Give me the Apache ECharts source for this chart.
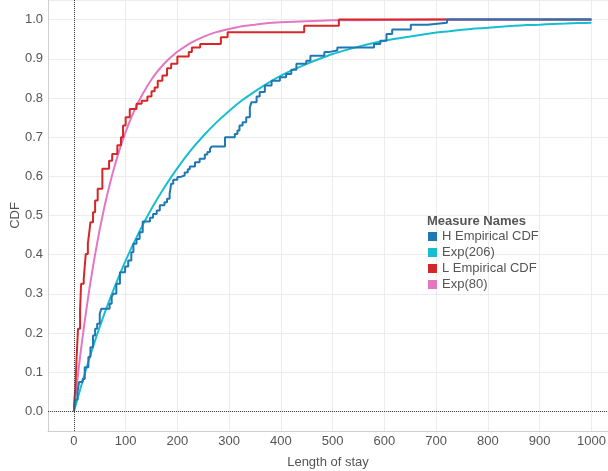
<!DOCTYPE html>
<html>
<head>
<meta charset="utf-8">
<script src="https://cdn.jsdelivr.net/npm/echarts@6/dist/echarts.min.js"></script>
<style>
  html, body { margin: 0; padding: 0; background: #ffffff; }
  #chart { width: 608px; height: 471px; }
</style>
</head>
<body>
<div id="chart"></div>
<script>
// Empirical CDF of length of stay, group H: [jump position, cumulative share]
const hEmpirical = [
  [0, 0], [3, 0.03], [7, 0.05], [10, 0.075], [17, 0.083], [21, 0.113], [28, 0.139],
  [32, 0.164], [37, 0.194], [41, 0.211], [45, 0.224], [50, 0.249], [53, 0.262],
  [69, 0.275], [73, 0.292], [76, 0.30], [82, 0.326], [89, 0.355], [99, 0.37],
  [105, 0.385], [111, 0.406], [115, 0.428], [121, 0.44], [127, 0.457], [133, 0.485],
  [147, 0.494], [153, 0.504], [160, 0.513], [166, 0.526], [175, 0.534], [180, 0.543],
  [185, 0.555], [188, 0.581], [192, 0.591], [200, 0.598], [205, 0.602], [214, 0.61],
  [220, 0.618], [224, 0.625], [234, 0.636], [243, 0.645], [253, 0.656], [258, 0.662],
  [263, 0.670], [266, 0.676], [292, 0.70], [311, 0.708], [316, 0.717], [320, 0.730],
  [326, 0.738], [333, 0.751], [340, 0.776], [343, 0.789], [353, 0.804], [359, 0.815],
  [369, 0.832], [382, 0.844], [398, 0.853], [410, 0.861], [420, 0.872], [430, 0.887],
  [449, 0.895], [457, 0.908], [484, 0.917], [492, 0.921], [509, 0.929], [580, 0.938],
  [592, 0.946], [604, 0.963], [615, 0.975], [651, 0.987], [683, 0.992], [721, 1.0],
  [1000, 1.0]
];

// Empirical CDF of length of stay, group L
const lEmpirical = [
  [0, 0], [1, 0.03], [3, 0.062], [5, 0.13], [8, 0.211], [12, 0.26], [14, 0.326],
  [19, 0.338], [21, 0.37], [23, 0.402], [27, 0.428], [30, 0.46], [32, 0.483],
  [37, 0.508], [41, 0.538], [46, 0.568], [55, 0.619], [68, 0.640], [74, 0.657],
  [84, 0.679], [91, 0.70], [95, 0.73], [100, 0.751], [108, 0.772], [121, 0.785],
  [131, 0.793], [142, 0.804], [150, 0.817], [156, 0.827], [162, 0.844], [171, 0.857],
  [180, 0.876], [188, 0.887], [200, 0.906], [222, 0.917], [228, 0.929], [244, 0.938],
  [284, 0.955], [297, 0.968], [445, 0.984], [512, 1.0], [1000, 1.0]
];

// Fitted exponential CDF, mean 206
const exp206 = [
  [0, 0], [25, 0.114], [50, 0.216], [75, 0.305], [100, 0.385], [125, 0.455],
  [150, 0.517], [175, 0.572], [200, 0.621], [225, 0.665], [250, 0.703], [275, 0.737],
  [300, 0.767], [325, 0.794], [350, 0.817], [375, 0.838], [400, 0.857], [425, 0.873],
  [450, 0.887], [475, 0.900], [500, 0.912], [525, 0.922], [550, 0.931], [575, 0.939],
  [600, 0.946], [625, 0.952], [650, 0.957], [675, 0.962], [700, 0.967], [725, 0.970],
  [750, 0.974], [775, 0.977], [800, 0.979], [825, 0.982], [850, 0.984], [875, 0.986],
  [900, 0.987], [925, 0.989], [950, 0.990], [975, 0.991], [1000, 0.992]
];

// Fitted exponential CDF, mean 80
const exp80 = [
  [0, 0], [10, 0.118], [20, 0.221], [30, 0.313], [40, 0.393], [50, 0.465], [60, 0.528],
  [70, 0.583], [80, 0.632], [90, 0.675], [100, 0.713], [110, 0.747], [120, 0.777],
  [130, 0.803], [140, 0.826], [150, 0.847], [160, 0.865], [170, 0.881], [180, 0.895],
  [190, 0.907], [200, 0.918], [225, 0.940], [250, 0.956], [275, 0.968], [300, 0.976],
  [325, 0.983], [350, 0.987], [375, 0.991], [400, 0.993], [450, 0.996], [500, 0.998],
  [600, 0.999], [700, 1.0], [800, 1.0], [900, 1.0], [1000, 1.0]
];

const legendNames = ['H Empirical CDF', 'Exp(206)', 'L Empirical CDF', 'Exp(80)'];
const seriesColors = {
  'H Empirical CDF': '#1f77b4',
  'Exp(206)': '#17becf',
  'L Empirical CDF': '#d62728',
  'Exp(80)': '#e377c2'
};

const FONT = 'Liberation Sans, Arial, sans-serif';
const TEXT = '#555555';
const SIZE = 13;

const chart = echarts.init(document.getElementById('chart'), null, { renderer: 'canvas' });

function curve(name, data) {
  return {
    name, type: 'line', data, symbol: 'none', smooth: 0.2,
    lineStyle: { width: 2, color: seriesColors[name] },
    itemStyle: { color: seriesColors[name] }
  };
}
function stepLine(name, data) {
  return {
    name, type: 'line', data, symbol: 'none', step: 'end',
    lineStyle: { width: 2, color: seriesColors[name] },
    itemStyle: { color: seriesColors[name] }
  };
}

// dotted reference lines through x = 0 and y = 0
const zeroLines = {
  silent: true, symbol: 'none', animation: false,
  label: { show: false },
  lineStyle: { type: 'dotted', color: '#444', width: 1 },
  data: [{ xAxis: 0 }, { yAxis: 0 }]
};

chart.setOption({
  animation: false,
  backgroundColor: '#ffffff',
  textStyle: { fontFamily: FONT },
  grid: { left: 48, right: 0, top: 0, bottom: 40, containLabel: false, outerBoundsMode: 'none' },
  title: {
    text: 'Measure Names', left: 422, top: 210,
    textStyle: { fontFamily: FONT, fontSize: SIZE, fontWeight: 'bold', color: TEXT }
  },
  legend: {
    data: legendNames, orient: 'vertical', left: 423, top: 224,
    itemWidth: 9, itemHeight: 9, itemGap: 1, icon: 'rect',
    textStyle: { fontFamily: FONT, fontSize: SIZE, color: TEXT, lineHeight: 15 },
    selectedMode: false
  },
  xAxis: {
    type: 'value', min: -50, max: 1032, splitNumber: 10,
    name: 'Length of stay', nameLocation: 'middle', nameGap: 25, nameMoveOverlap: false,
    nameTextStyle: { fontFamily: FONT, fontSize: SIZE, color: TEXT },
    axisLine: { show: true, onZero: false, lineStyle: { color: '#cfcfcf', width: 1 } },
    axisTick: { show: false },
    axisLabel: {
      showMinLabel: false, showMaxLabel: false, margin: 4, fontSize: SIZE, color: TEXT, fontFamily: FONT,
      formatter: v => String(v)
    },
    splitLine: { show: true, lineStyle: { color: '#ececec', width: 1 } }
  },
  yAxis: {
    type: 'value', min: -0.05, max: 1.05, splitNumber: 11,
    name: 'CDF', nameLocation: 'middle', nameGap: 26, nameMoveOverlap: false,
    nameTextStyle: { fontFamily: FONT, fontSize: SIZE, color: TEXT },
    axisLine: { show: true, onZero: false, lineStyle: { color: '#cfcfcf', width: 1 } },
    axisTick: { show: false },
    axisLabel: {
      showMinLabel: false, showMaxLabel: false, margin: 5, fontSize: SIZE, color: TEXT, fontFamily: FONT,
      formatter: v => v.toFixed(1)
    },
    splitLine: { show: true, lineStyle: { color: '#ececec', width: 1 } }
  },
  series: [
    Object.assign(curve('Exp(80)', exp80), { markLine: zeroLines }),
    stepLine('L Empirical CDF', lEmpirical),
    curve('Exp(206)', exp206),
    stepLine('H Empirical CDF', hEmpirical)
  ]
});
</script>
</body>
</html>
